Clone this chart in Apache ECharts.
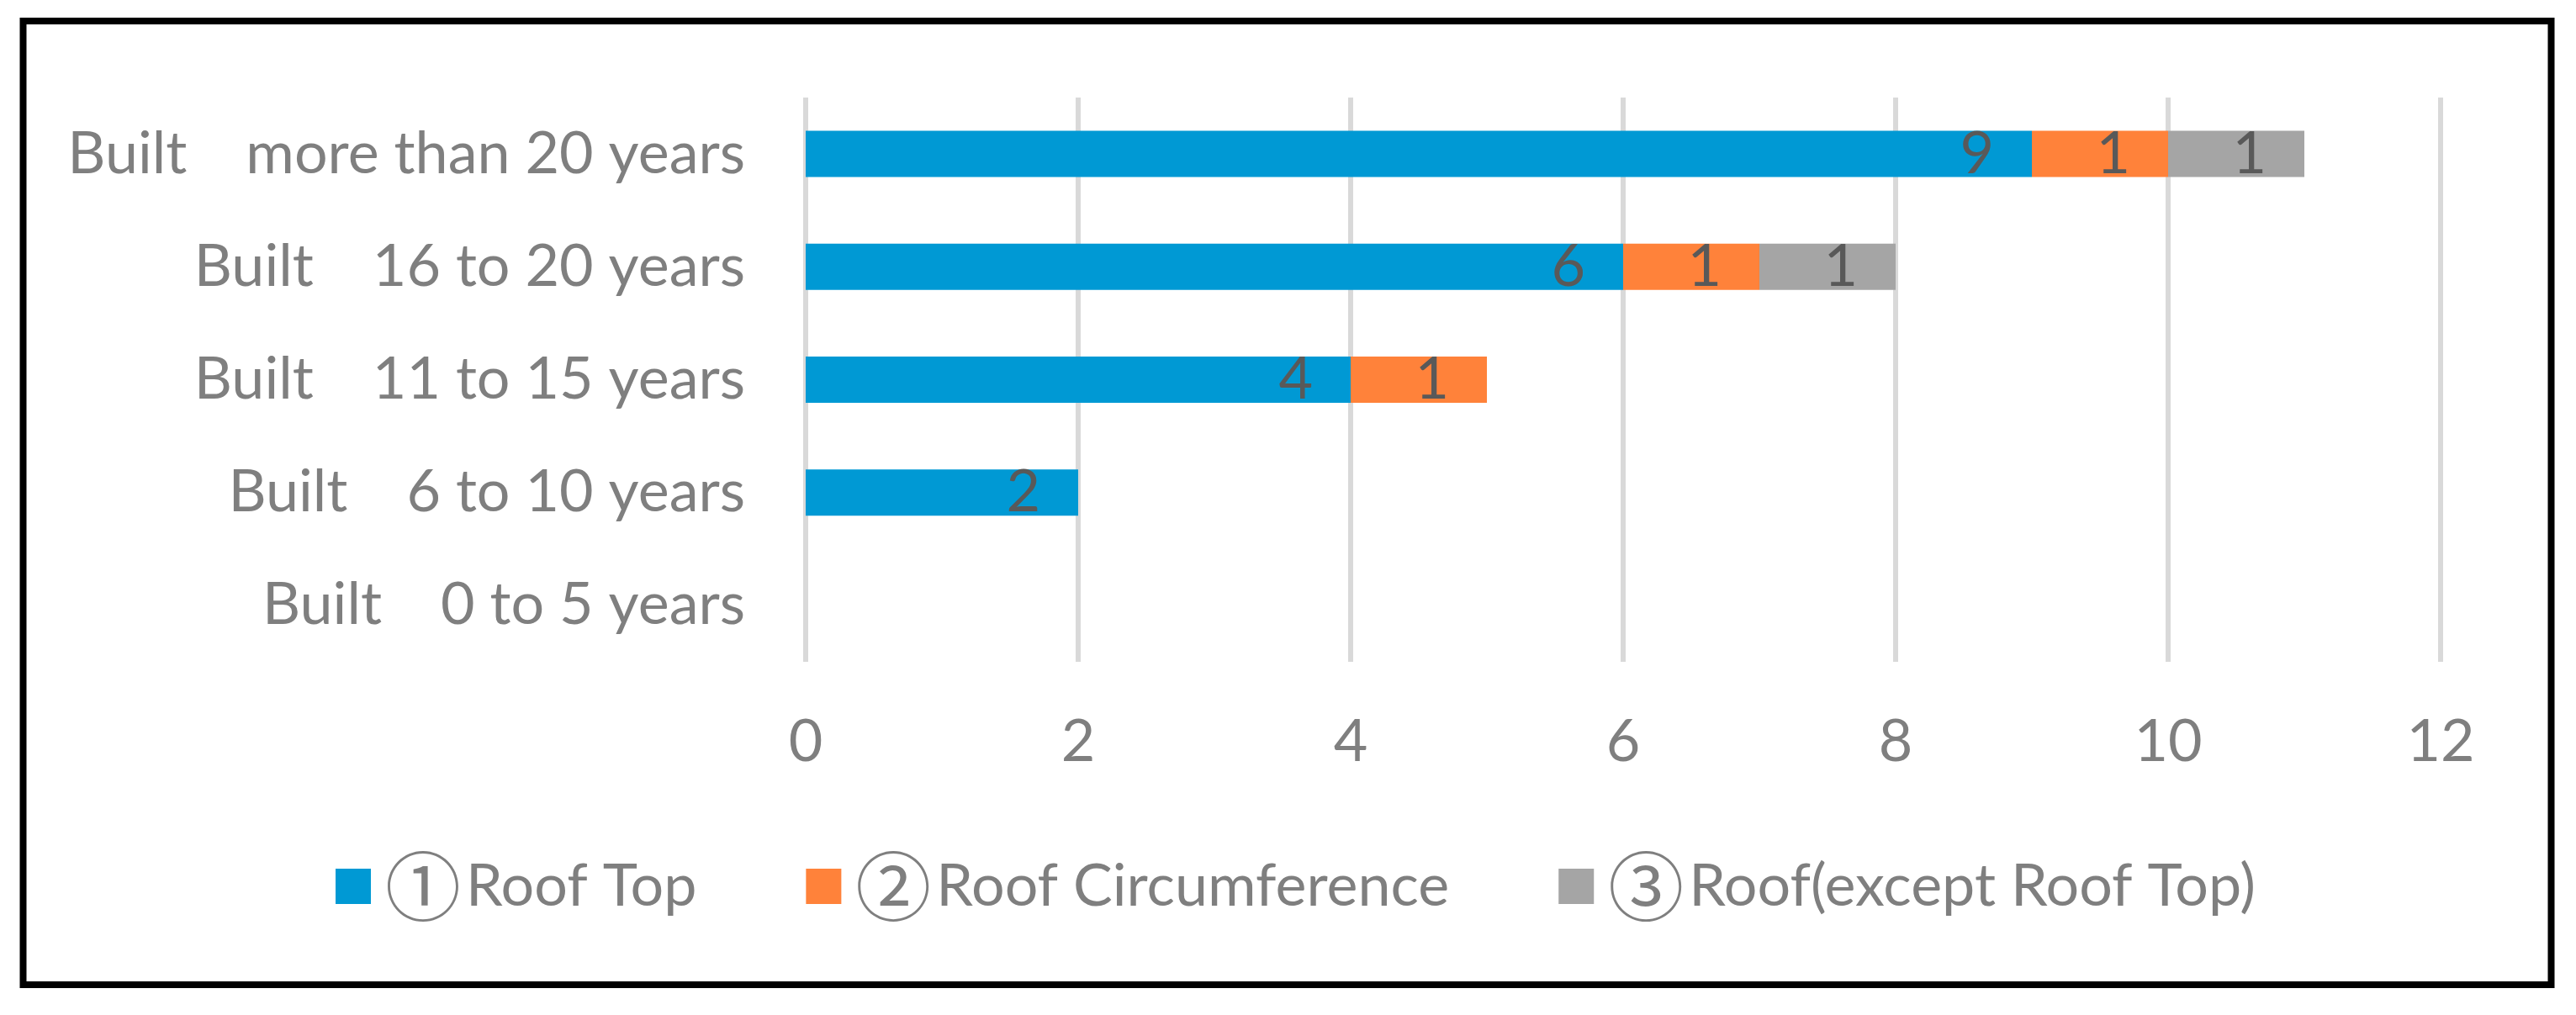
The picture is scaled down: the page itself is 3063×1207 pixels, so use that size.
<!DOCTYPE html>
<html>
<head>
<meta charset="utf-8">
<script src="https://cdn.jsdelivr.net/npm/echarts@6/dist/echarts.min.js"></script>
<style>
html,body{margin:0;padding:0;background:#fff;}
#chart{width:3063px;height:1207px;}
</style>
</head>
<body>
<div id="chart"></div>
<script>
// categories listed bottom to top
const categories = [
  'Built\u30000 to 5 years',
  'Built\u30006 to 10 years',
  'Built\u300011 to 15 years',
  'Built\u300016 to 20 years',
  'Built\u3000more than 20 years'
];
const seriesNames = ['\u2460Roof Top', '\u2461Roof Circumference', '\u2462Roof(except Roof Top)'];
const roofTop = [0, 2, 4, 6, 9];
const roofCircumference = [0, 0, 1, 1, 1];
const roofExceptTop = [0, 0, 0, 1, 1];
const xTicks = [0, 2, 4, 6, 8, 10, 12];

const colors = ['#0099D4', '#FF823A', '#A5A5A5'];
const FONT = 'Lato, "Noto Sans", sans-serif';
const FS = 70;

const chart = echarts.init(document.getElementById('chart'), null, {renderer: 'canvas'});

function mkSeries(name, data, color) {
  return {
    name: name,
    type: 'bar',
    stack: 'total',
    data: data,
    barWidth: 55,
    itemStyle: {color: color},
    label: {
      show: true,
      position: 'insideRight',
      distance: 45,
      color: '#595959',
      fontSize: FS,
      fontFamily: FONT,
      formatter: p => (p.value ? String(p.value) : '')
    },
    emphasis: {disabled: true}
  };
}

chart.setOption({
  animation: false,
  backgroundColor: '#fff',
  color: colors,
  grid: {left: 958, right: 161, top: 116, bottom: 420, containLabel: false},
  xAxis: {
    type: 'value',
    min: xTicks[0],
    max: xTicks[xTicks.length - 1],
    interval: 2,
    axisLine: {show: false},
    axisTick: {show: false},
    splitLine: {show: true, lineStyle: {color: '#D9D9D9', width: 6}},
    axisLabel: {color: '#7F7F7F', fontSize: FS, fontFamily: FONT, margin: 60}
  },
  yAxis: {
    type: 'category',
    data: categories,
    axisLine: {show: false},
    axisTick: {show: false},
    axisLabel: {color: '#7F7F7F', fontSize: FS, fontFamily: FONT, margin: 72}
  },
  legend: {
    data: seriesNames,
    left: 394,
    top: 1004,
    icon: 'rect',
    itemWidth: 42,
    itemHeight: 42,
    itemGap: 130,
    selectedMode: false,
    textStyle: {
      color: '#7F7F7F', fontSize: FS, fontFamily: FONT, padding: [0, 0, 0, 0],
      rich: {
        c: {fontSize: 90, fontFamily: '"Noto Sans CJK JP"', color: '#7F7F7F', padding: [0, 6, 0, 12]},
        t: {fontSize: FS, fontFamily: FONT, color: '#7F7F7F'}
      }
    },
    formatter: n => '{c|' + n.charAt(0) + '}{t|' + n.slice(1) + '}'
  },
  graphic: [{
    type: 'rect',
    shape: {x: 27.5, y: 25, width: 3006, height: 1146},
    style: {fill: 'none', stroke: '#000', lineWidth: 8},
    silent: true
  }],
  series: [
    mkSeries(seriesNames[0], roofTop, colors[0]),
    mkSeries(seriesNames[1], roofCircumference, colors[1]),
    mkSeries(seriesNames[2], roofExceptTop, colors[2])
  ]
});
</script>
</body>
</html>
